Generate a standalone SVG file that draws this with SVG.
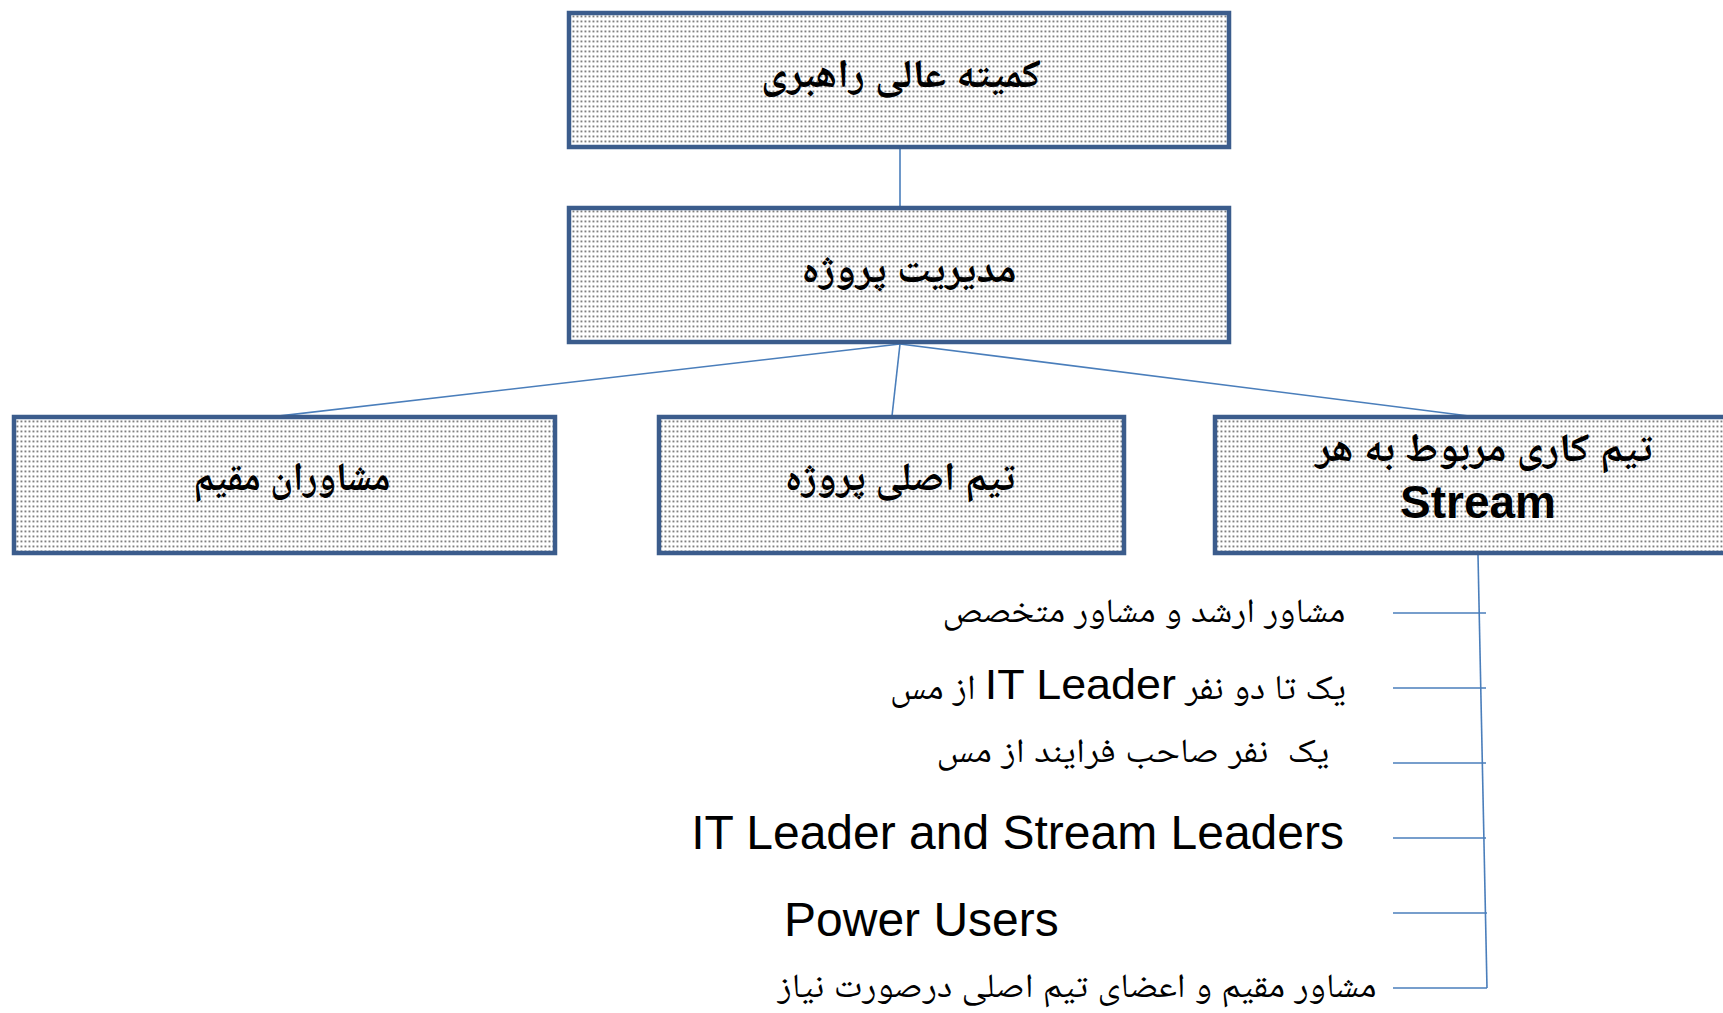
<svg xmlns="http://www.w3.org/2000/svg" width="1723" height="1013" viewBox="0 0 1723 1013">
<defs>
<pattern id="dots" x="0" y="0" width="4" height="5" patternUnits="userSpaceOnUse">
<rect x="0.5" y="0.5" width="1.9" height="1.9" fill="#7f7f7f"/>
</pattern>
<style>
.box{fill:url(#dots);stroke:#3b5c8c;stroke-width:4.5}
.bg{fill:#ffffff;stroke:none}
.con{stroke:#4a7ebb;stroke-width:1.6;fill:none}
.ar{font-family:"Times New Roman","Liberation Serif","Noto Naskh Arabic","Noto Sans Arabic","DejaVu Sans",serif;fill:#000}
.arb{font-family:"Times New Roman","Liberation Serif","Noto Naskh Arabic","Noto Sans Arabic","DejaVu Sans",serif;font-weight:bold;fill:#000}
.en{font-family:"Liberation Sans",Arial,sans-serif;fill:#000}
</style>
</defs>
<rect width="1723" height="1013" fill="#ffffff"/>
<g id="connectors">
<line class="con" x1="900" y1="147" x2="900" y2="208"/>
<line class="con" x1="900" y1="344" x2="253" y2="419"/>
<line class="con" x1="900" y1="344" x2="892" y2="416"/>
<line class="con" x1="900" y1="344" x2="1477" y2="417"/>
<line class="con" x1="1478" y1="555" x2="1487" y2="988"/>
<line class="con" x1="1393" y1="613" x2="1486" y2="613"/>
<line class="con" x1="1393" y1="688" x2="1486" y2="688"/>
<line class="con" x1="1393" y1="763" x2="1486" y2="763"/>
<line class="con" x1="1393" y1="838" x2="1486" y2="838"/>
<line class="con" x1="1393" y1="913" x2="1487" y2="913"/>
<line class="con" x1="1393" y1="988" x2="1487" y2="988"/>
</g>
<g id="node-steering">
<rect class="bg" x="569" y="13" width="660" height="134"/>
<rect class="box" x="569" y="13" width="660" height="134"/>
<text class="arb" x="901" y="87" font-size="40" text-anchor="middle" direction="rtl" textLength="280" lengthAdjust="spacingAndGlyphs">کمیته عالی راهبری</text>
</g>
<g id="node-pm">
<rect class="bg" x="569" y="208" width="660" height="134"/>
<rect class="box" x="569" y="208" width="660" height="134"/>
<text class="arb" x="909" y="282" font-size="40" text-anchor="middle" direction="rtl" textLength="215" lengthAdjust="spacingAndGlyphs">مدیریت پروژه</text>
</g>
<g id="node-consultants">
<rect class="bg" x="14" y="417" width="541" height="136"/>
<rect class="box" x="14" y="417" width="541" height="136"/>
<text class="arb" x="292" y="490" font-size="40" text-anchor="middle" direction="rtl" textLength="197" lengthAdjust="spacingAndGlyphs">مشاوران مقیم</text>
</g>
<g id="node-core">
<rect class="bg" x="659" y="417" width="465" height="136"/>
<rect class="box" x="659" y="417" width="465" height="136"/>
<text class="arb" x="900" y="490" font-size="40" text-anchor="middle" direction="rtl" textLength="230" lengthAdjust="spacingAndGlyphs">تیم اصلی پروژه</text>
</g>
<g id="node-stream">
<rect class="bg" x="1215" y="417" width="520" height="136"/>
<rect class="box" x="1215" y="417" width="520" height="136"/>
<text class="arb" x="1484" y="461" font-size="40" text-anchor="middle" direction="rtl" textLength="337" lengthAdjust="spacingAndGlyphs">تیم کاری مربوط به هر</text>
<text class="en" x="1478" y="518" font-size="46" font-weight="bold" text-anchor="middle">Stream</text>
</g>
<g id="members">
<text class="ar" x="1144" y="622" font-size="34" text-anchor="middle" direction="rtl" textLength="403" lengthAdjust="spacingAndGlyphs">مشاور ارشد و مشاور متخصص</text>
<text class="ar" x="1118" y="699" font-size="35" text-anchor="middle" direction="rtl" textLength="456" lengthAdjust="spacingAndGlyphs">یک تا دو نفر <tspan class="en" font-size="43">IT Leader</tspan> از مس</text>
<text class="ar" x="1133" y="762" font-size="34" text-anchor="middle" direction="rtl" textLength="393" lengthAdjust="spacingAndGlyphs" style="white-space:pre">یک  نفر صاحب فرایند از مس</text>
<text class="en" x="1344" y="849" font-size="48" text-anchor="end">IT Leader and Stream Leaders</text>
<text class="en" x="784" y="936" font-size="48">Power Users</text>
<text class="ar" x="1077" y="997" font-size="34" text-anchor="middle" direction="rtl" textLength="599" lengthAdjust="spacingAndGlyphs">مشاور مقیم و اعضای تیم اصلی درصورت نیاز</text>
</g>
</svg>
